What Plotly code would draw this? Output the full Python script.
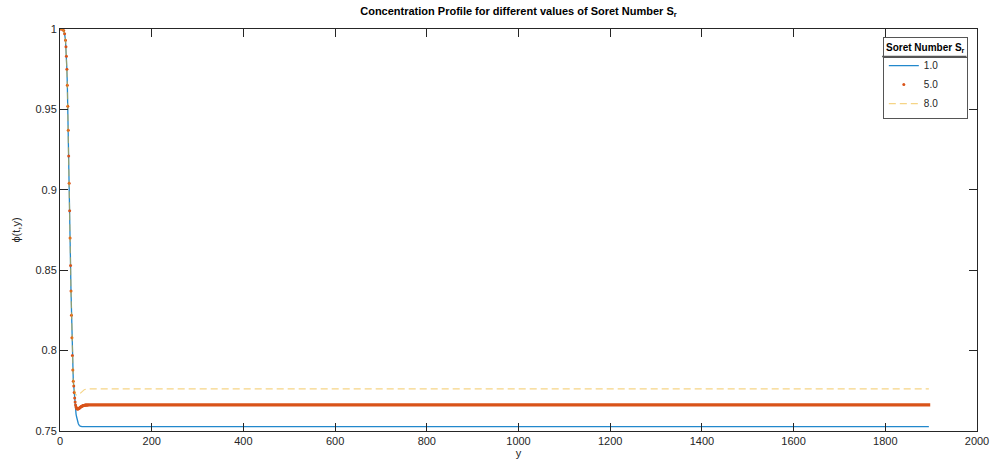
import plotly.graph_objects as go

# ---- data ----
x_common = [0, 4, 8, 10, 12, 13, 14, 15, 16, 17, 18, 19, 20, 21, 22, 23, 24,
            25, 26, 27, 28, 29, 30]
phi_common = [1.0, 0.9998, 0.999, 0.997, 0.993, 0.989, 0.983, 0.975, 0.965,
              0.952, 0.937, 0.921, 0.904, 0.887, 0.870, 0.853, 0.837, 0.822,
              0.808, 0.797, 0.788, 0.781, 0.778]

x_sr1_tail = [31, 32, 33, 34, 35, 36, 37, 38, 39, 40, 42, 44, 48, 60, 1895]
phi_sr1_tail = [0.7735, 0.769, 0.7655, 0.7625, 0.7605, 0.759, 0.7575, 0.7563,
                0.7553, 0.7545, 0.7535, 0.753, 0.7527, 0.7527, 0.7527]

x_sr5_tail = [31, 32, 33, 34, 35, 36, 37, 38, 39, 40, 41, 42, 43, 44, 45, 46,
              47, 48, 49, 50, 51, 52, 53, 54, 55, 56, 57, 58, 59, 60]
phi_sr5_tail = [0.774, 0.7705, 0.768, 0.7662, 0.765, 0.7643, 0.7639, 0.7637,
                0.7637, 0.7638, 0.764, 0.7642, 0.7645, 0.7647, 0.7649, 0.7651,
                0.7653, 0.7655, 0.7656, 0.7657, 0.7658, 0.7659, 0.766, 0.766,
                0.7661, 0.7661, 0.7661, 0.7662, 0.7662, 0.7662]
x_sr5_flat = [60, 1898]
phi_sr5_flat = [0.7662, 0.7662]

x_sr8_tail = [31, 32, 33, 35, 37, 39, 41, 44, 47, 50, 53, 57, 62, 1895]
phi_sr8_tail = [0.7755, 0.774, 0.7732, 0.7725, 0.7722, 0.7722, 0.7726, 0.7735,
                0.7745, 0.7752, 0.7757, 0.776, 0.7762, 0.7762]

series_names = ["1.0", "5.0", "8.0"]
x_ticks = [0, 200, 400, 600, 800, 1000, 1200, 1400, 1600, 1800, 2000]
y_ticks = [0.75, 0.8, 0.85, 0.9, 0.95, 1.0]
y_tick_text = ["0.75", "0.8", "0.85", "0.9", "0.95", "1"]

BLUE = "#2288CC"
ORANGE = "#D95319"
YELLOW = "rgba(237,177,32,0.55)"
INK = "#262626"
FONT = "Liberation Sans, Arial, Helvetica, sans-serif"

fig = go.Figure()

fig.add_trace(go.Scatter(
    x=x_common + x_sr1_tail, y=phi_common + phi_sr1_tail,
    mode="lines", name=series_names[0],
    line=dict(color=BLUE, width=1.3),
))
fig.add_trace(go.Scatter(
    x=x_sr5_flat, y=phi_sr5_flat, mode="lines", showlegend=False,
    legendgroup="sr5", line=dict(color=ORANGE, width=3.2), hoverinfo="skip",
))
fig.add_trace(go.Scatter(
    x=x_common + x_sr5_tail, y=phi_common + phi_sr5_tail,
    mode="markers", name=series_names[1], legendgroup="sr5",
    marker=dict(color=ORANGE, size=3, line=dict(width=0)),
))
fig.add_trace(go.Scatter(
    x=x_common + x_sr8_tail, y=phi_common + phi_sr8_tail,
    mode="lines", name=series_names[2],
    line=dict(color=YELLOW, width=1.2, dash="7px,4px"),
))

axis_common = dict(
    showline=True, linecolor=INK, linewidth=1, mirror="ticks",
    ticks="inside", ticklen=8, tickcolor=INK, tickwidth=1,
    showgrid=False, zeroline=False, automargin=False,
    tickfont=dict(family=FONT, size=11, color=INK),
)

fig.update_layout(
    width=997, height=464,
    margin=dict(l=60, r=20, t=29, b=33, autoexpand=False),
    paper_bgcolor="white", plot_bgcolor="white",
    font=dict(family=FONT, size=11, color=INK),
    title=dict(
        text="<b>Concentration Profile for different values of Soret Number S<sub>r</sub></b>",
        x=0.5, xref="paper", xanchor="center", y=0.985, yanchor="top",
        font=dict(family=FONT, size=11, color="black"),
    ),
    xaxis=dict(range=[0, 2000], tickvals=x_ticks,
               title=dict(text="y", font=dict(family=FONT, size=11, color=INK), standoff=2),
               **axis_common),
    yaxis=dict(range=[0.75, 1.0], tickvals=y_ticks, ticktext=y_tick_text,
               title=dict(text="ϕ(t,y)", font=dict(family=FONT, size=11, color=INK), standoff=12),
               **axis_common),
    legend=dict(
        x=0.990, y=0.980, xanchor="right", yanchor="top",
        bgcolor="rgba(0,0,0,0)", bordercolor="#555555", borderwidth=1,
        font=dict(family=FONT, size=10, color=INK),
        title=dict(text="<b>Soret Number S<sub>r</sub></b>", side="top center",
                   font=dict(family=FONT, size=10, color="black")),
        itemwidth=30, tracegroupgap=0,
    ),
    showlegend=True,
)

# separator under the legend title row
fig.add_annotation(
    xref="paper", yref="paper", x=0.990, y=0.980,
    xanchor="right", yanchor="top", text="\u00a0", showarrow=False,
    width=83, height=19, borderpad=0, bordercolor="#555555", borderwidth=1,
    bgcolor="rgba(0,0,0,0)", font=dict(size=10),
)
fig.add_shape(type="line", xref="paper", yref="paper", layer="above",
              x0=0.8965, x1=0.9885, y0=0.9315, y1=0.9315,
              line=dict(color="#555555", width=1.5))

fig.write_html(
    "out.html",
    config={"displayModeBar": False},
    post_script="document.body.style.margin='0';document.body.style.padding='0';",
)
